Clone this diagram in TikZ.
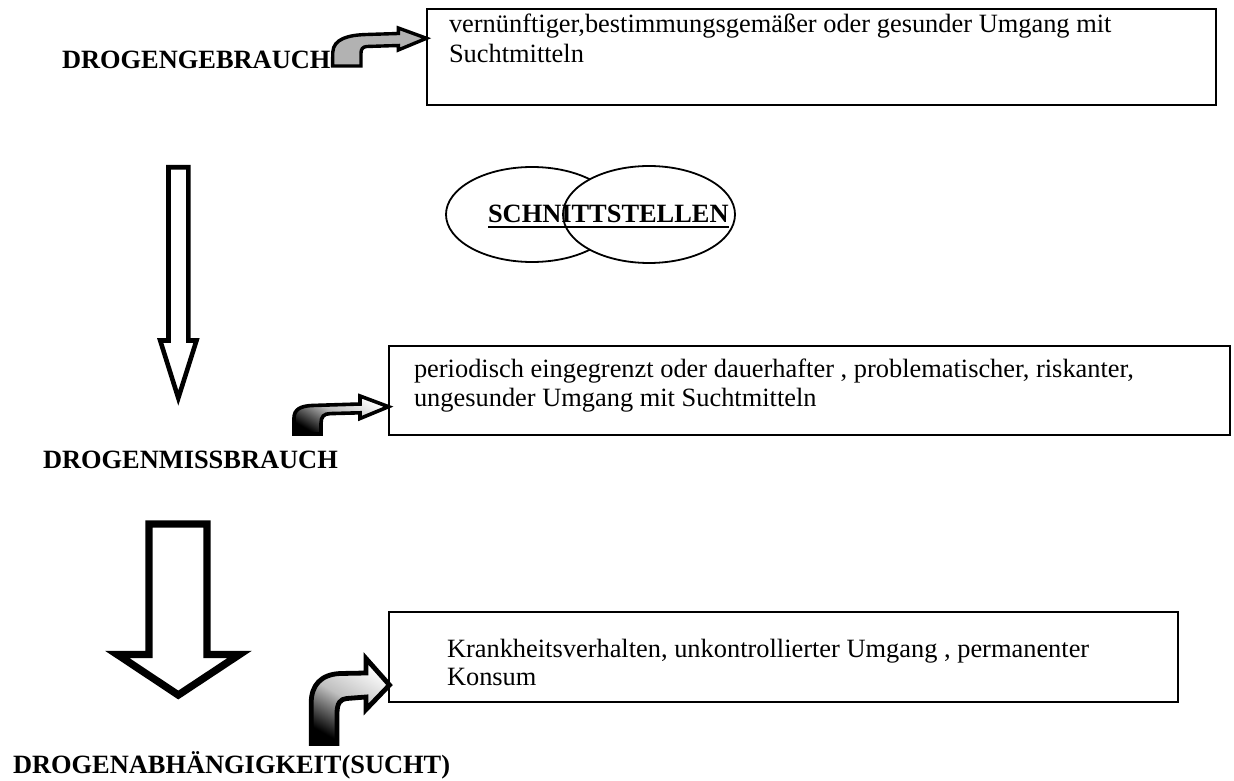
\documentclass[tikz,border=0pt]{standalone}
\usepackage{fontspec}
\setmainfont{Liberation Serif}
\begin{document}
\begin{tikzpicture}[x=0.5pt,y=-0.5pt,
  every node/.style={inner sep=0pt,outer sep=0pt,anchor=base west,
    font=\fontsize{13.2}{15}\selectfont},
  stage/.style={font=\fontsize{13.2}{15}\selectfont\bfseries},
  infobox/.style={draw=black,line width=0.8pt},
  blockarrow/.style={draw=black,fill=white,line join=miter},
  bentgray/.style={draw=black,line width=1.7pt,fill=black!30,line join=miter},
  bentshade/.style={draw=black,line join=miter,shading=axis,
    top color=white,bottom color=black,middle color=black!25,shading angle=-30}]
\useasboundingbox (0,0) rectangle (1234,780);

% stage labels
\node[stage] (gebrauch) at (62,69) {DROGENGEBRAUCH};
\node[stage] (missbrauch) at (43,468) {DROGENMISSBRAUCH};
\node[stage] (sucht) at (13,773) {DROGENABHÄNGIGKEIT(SUCHT)};

% description boxes
\draw[infobox] (427,9) rectangle (1216,105);
\node (t1a) at (449,33) {vernünftiger,bestimmungsgemäßer oder gesunder Umgang mit};
\node (t1b) at (449,62.5) {Suchtmitteln};

\draw[infobox] (389,346) rectangle (1230,435);
\node (t2a) at (414,377) {periodisch eingegrenzt oder dauerhafter , problematischer, riskanter,};
\node (t2b) at (414,406.5) {ungesunder Umgang mit Suchtmitteln};

\draw[infobox] (389,612) rectangle (1178,702);
\node (t3a) at (447,657) {Krankheitsverhalten, unkontrollierter Umgang , permanenter};
\node (t3b) at (447,685) {Konsum};

% overlapping ellipses
\draw[line width=0.9pt,fill=white] (532,214.5) ellipse (86 and 47.5);
\draw[line width=0.9pt,fill=white] (649,214.5) ellipse (86 and 48.5);
\node[stage] (schnitt) at (488,223) {SCHNITTSTELLEN};
\draw[line width=0.8pt] ([yshift=-2pt]schnitt.base west) -- ([yshift=-2pt]schnitt.base east);

% bent arrows towards the boxes
\draw[bentgray] (332.5,66) -- (332.8,52)
  .. controls (333.5,39) and (348,35) .. (366.7,34.5) -- (398.3,33.5) -- (398.3,28)
  -- (426.5,38.3) -- (398.3,50) -- (398.3,45.5) -- (366.7,46.5)
  .. controls (362.5,46.8) and (361,49.5) .. (361,53) -- (361,66) -- cycle;

\draw[bentshade,line width=1.8pt] (294,434) -- (294,418)
  .. controls (294,409.5) and (300.5,406) .. (312,405.5) -- (360,404) -- (360,396)
  -- (388.5,406.7) -- (360,418.5) -- (360,412.8) -- (330,413.6)
  .. controls (324,413.8) and (321,416.5) .. (321,423.3) -- (321,434) -- cycle;

\draw[bentshade,line width=2.4pt] (311.2,743.5) -- (311.2,703)
  .. controls (311.2,685) and (321,674.5) .. (340,673.5) -- (366,673) -- (366,658.5)
  -- (389.5,685) -- (366,709.5) -- (366,697) -- (346.7,698.5)
  .. controls (340.5,699) and (337,703) .. (337,713.3) -- (337,743.5) -- cycle;

% downward block arrows between the stages
\draw[blockarrow,line width=2.3pt] (168.5,167.3) -- (188.3,167.3) -- (188.3,340.5)
  -- (196.5,340.5) -- (178.3,398) -- (160.2,340.5) -- (168.5,340.5) -- cycle;
\draw[blockarrow,line width=3.7pt] (149,524) -- (207,524) -- (207,654.5)
  -- (239.5,654.5) -- (178.3,695) -- (117.3,654.5) -- (149,654.5) -- cycle;
\end{tikzpicture}
\end{document}
